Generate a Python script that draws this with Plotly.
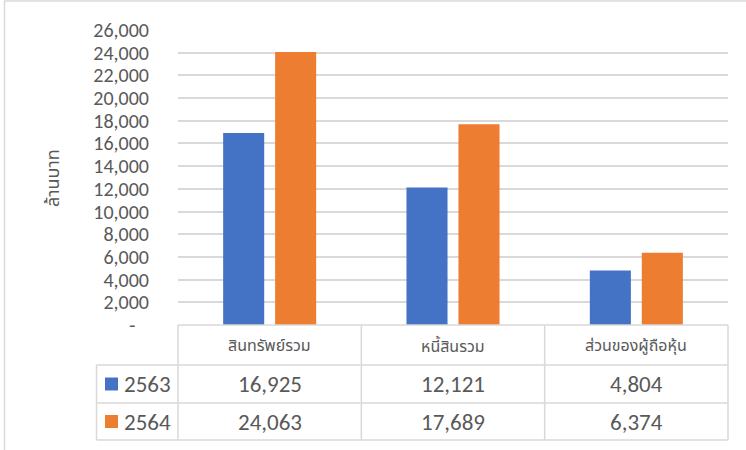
import plotly.graph_objects as go

categories = ["สินทรัพย์รวม", "หนี้สินรวม", "ส่วนของผู้ถือหุ้น"]
series_names = ["2563", "2564"]
values_2563 = [16925, 12121, 4804]
values_2564 = [24063, 17689, 6374]
y_ticks = list(range(0, 26001, 2000))
y_title = "ล้านบาท"

colors = ["#4472C4", "#ED7D31"]
series_values = [values_2563, values_2564]

W, H = 746, 450
L, R, T, B = 178, 728, 30, 325  # plot area in pixels

def px_x(x):
    return (x - L) / (R - L)

def px_y(y):
    return (B - y) / (B - T)

FONT = "Carlito, Calibri, 'Liberation Sans', 'Noto Sans Thai', sans-serif"
GRID = "#D9D9D9"
TXT = "#595959"

fig = go.Figure()
for name, vals, c in zip(series_names, series_values, colors):
    fig.add_trace(go.Bar(x=categories, y=vals, name=name, marker=dict(color=c, line=dict(width=0)),
                         hoverinfo="x+y+name"))

ticktext = ["-\u00a0\u00a0\u00a0" if v == 0 else f"{v:,}" for v in y_ticks]

shapes = []
annotations = []

# outer chart frame
shapes.append(dict(type="rect", xref="paper", yref="paper",
                   x0=px_x(4.5), x1=px_x(747), y0=px_y(1), y1=px_y(452),
                   line=dict(color=GRID, width=1.5), layer="below"))

# data table
col_w = (R - L) / len(categories)
row_edges = [B, 365, 403, 440]
tbl_left = 96.5
shapes.append(dict(type="line", xref="paper", yref="paper", x0=px_x(L), x1=px_x(R),
                   y0=px_y(B), y1=px_y(B), line=dict(color=GRID, width=1.5)))
for ry in row_edges[1:]:
    shapes.append(dict(type="line", xref="paper", yref="paper", x0=px_x(tbl_left), x1=px_x(R),
                       y0=px_y(ry), y1=px_y(ry), line=dict(color=GRID, width=1.5)))
for i in range(len(categories) + 1):
    cx = L + i * col_w
    shapes.append(dict(type="line", xref="paper", yref="paper", x0=px_x(cx), x1=px_x(cx),
                       y0=px_y(B), y1=px_y(row_edges[-1]), line=dict(color=GRID, width=1.5)))
shapes.append(dict(type="line", xref="paper", yref="paper", x0=px_x(tbl_left), x1=px_x(tbl_left),
                   y0=px_y(row_edges[1]), y1=px_y(row_edges[-1]), line=dict(color=GRID, width=1.5)))

# header labels
for i, cat in enumerate(categories):
    cx = L + (i + 0.5) * col_w
    annotations.append(dict(xref="paper", yref="paper", x=px_x(cx), y=px_y((row_edges[0] + row_edges[1]) / 2),
                            text=cat, showarrow=False, xanchor="center", yanchor="middle",
                            font=dict(family=FONT, size=16, color=TXT)))

# rows
for r, (name, vals, c) in enumerate(zip(series_names, series_values, colors)):
    y0, y1 = row_edges[r + 1], row_edges[r + 2]
    ym = (y0 + y1) / 2
    shapes.append(dict(type="rect", xref="paper", yref="paper",
                       x0=px_x(105), x1=px_x(118), y0=px_y(ym - 6.5), y1=px_y(ym + 6.5),
                       fillcolor=c, line=dict(width=0)))
    annotations.append(dict(xref="paper", yref="paper", x=px_x(122), y=px_y(ym),
                            text=name, showarrow=False, xanchor="left", yanchor="middle",
                            font=dict(family=FONT, size=23, color=TXT)))
    for i, v in enumerate(vals):
        cx = L + (i + 0.5) * col_w
        annotations.append(dict(xref="paper", yref="paper", x=px_x(cx), y=px_y(ym),
                                text=f"{v:,}", showarrow=False, xanchor="center", yanchor="middle",
                                font=dict(family=FONT, size=23, color=TXT)))

# y axis title
annotations.append(dict(xref="paper", yref="paper", x=px_x(53), y=px_y(178), text=y_title,
                        textangle=-90, showarrow=False, xanchor="center", yanchor="middle",
                        font=dict(family=FONT, size=18, color=TXT)))

fig.update_layout(
    width=W, height=H,
    margin=dict(l=L, r=W - R, t=T, b=H - B, pad=0),
    paper_bgcolor="white", plot_bgcolor="white",
    barmode="group", bargap=0.433, bargroupgap=0.21,
    showlegend=False,
    font=dict(family=FONT, color=TXT),
    shapes=shapes, annotations=annotations,
    xaxis=dict(showticklabels=False, showgrid=False, zeroline=False, showline=False, ticks=""),
    yaxis=dict(range=[0, 26000], tickvals=y_ticks, ticktext=ticktext, showgrid=True,
               gridcolor=GRID, gridwidth=1.5, zeroline=False, showline=False, ticks="",
               ticklabelstandoff=28, tickfont=dict(family=FONT, size=20, color=TXT)),
)

fig.write_html("out.html", config={"displayModeBar": False},
               post_script="document.body.style.margin='0';document.body.style.overflow='hidden';")
